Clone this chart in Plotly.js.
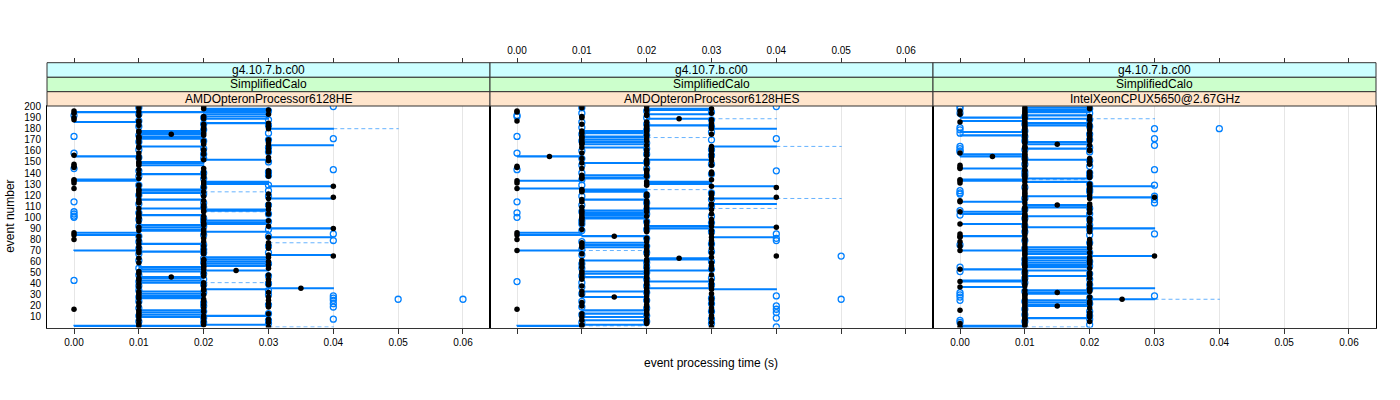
<!DOCTYPE html>
<html><head><meta charset="utf-8">
<script src="https://cdn.plot.ly/plotly-3.0.1.min.js"></script>
<style>body{margin:0;background:#fff}#chart{width:1400px;height:400px}</style>
</head><body><div id="chart"></div><script>
const version = "g4.10.7.b.c00";
const app = "SimplifiedCalo";
const cpus = ["AMDOpteronProcessor6128HE","AMDOpteronProcessor6128HES","IntelXeonCPUX5650@2.67GHz"];
const xTickVals = [0,0.01,0.02,0.03,0.04,0.05,0.06];
const xTickText = ["0.00","0.01","0.02","0.03","0.04","0.05","0.06"];
const yTickVals = [10,20,30,40,50,60,70,80,90,100,110,120,130,140,150,160,170,180,190,200];

// ---- Panel 1: AMDOpteronProcessor6128HE (values in hundredths of a second) ----
// median per event 1..200
const p1Med = [3,1,2,1,3,2,1,3,2,1, 2,1,3,1,2,1,0,2,3,1, 2,3,1,2,3,2,1,3,1,2, 1,3,1,2,2,3.5,1,2,3,1,
2,3,1,3,1,1.5,2,3,1,2, 1,2.5,2,3,2,2,3,2,1,3, 2,2,1,3,4,3,2,1,2,1, 2,3,1,2,3,1,3,2,1,0, 2,3,1,0,2,0,2,1,2,4,
1,3,2,2,2,1,3,2,1,1, 2,1,3,1,2,2,3,1,2,3, 2,3,1,1,2,1,3,4,2,1, 3,1,2,1,1,0,2,4,1,2, 0,2,0,0,1,2,3,2,1,3,
2,3,1,2,0,0,1,0,1,1, 3,2,1,3,1,0,2,1,3,2, 2,3,1,1,3,2,3,1,2,3, 1,1,1,2,1.5,2,1,1,2,3, 2,3,1,2,3,1,1,0,2,0,
2,1,3,0,1,0,3,2,1,2];
// boxes (lower to upper quartile): [event, low, high]
const p1Box = [[2,0,2],[3,2,3],[10,1,2],[11,2,3],[12,1,2],[14,1,2],[16,1,2],[27,1,2],[29,1,2],[31,1,2],[33,1,2],[35,2,3],[36,3,4],[41,1,2],[43,1,2],[45,1,2],[46,1,2],[51,1,2],[52,2,3],[53,1,2],[55,1,2],[56,2,3],[58,2,3],[60,2,3],[62,2,3],[64,2,3],[66,3,4],[69,1,2],[70,0,1],[76,1,2],[82,3,4],[84,0,1],[86,0,1],[87,2,3],[88,1,2],[89,1,2],[90,3,4],[91,1,2],[93,1,2],[94,2,3],[95,2,3],[97,2,3],[102,1,2],[106,2,3],[107,2,3],[108,1,2],[116,1,2],[117,3,4],[122,1,2],[124,1,2],[125,1,2],[128,3,4],[130,2,3],[132,2,3],[133,0,1],[134,0,1],[139,1,2],[147,1,2],[149,1,2],[150,1,2],[152,2,3],[155,0,1],[164,1,2],[165,3,4],[171,1,2],[172,1,2],[173,1,2],[175,1,2],[176,1,2],[177,1,2],[178,1,2],[180,3,4],[185,2,3],[186,0,1],[189,2,3],[191,2,3],[193,2,3],[195,0,3],[197,2,3],[198,2,3]];
// whiskers drawn dashed: [event, from, to]
const p1Whisk = [[1,3,4],[41,2,3],[77,3,4],[105,2,3],[123,2,3],[180,4,5]];
// outliers: [event, value]
const p1Out = [[192,0],[173,0],[158,0],[144,0],[114,0],[105,0],[103,0],[101,0],[100,0],[43,0],
[200,4],[171,4],[143,4],[85,4],[79,4],[29,4],[27,4],[25,4],[22,4],[19,4],[8,4],[26,5],[26,6],
[199,1],[193,1],[187,1],[182,1],[174,1],[168,1],[161,1],[154,1],[142,1],[137,1],[129,1],[120,1],[112,1],[104,1],[98,1],[92,1],[83,1],[78,1],[72,1],[67,1],[61,1],[54,1],[48,1],[42,1],[38,1],[34,1],[28,1],[24,1],[18,1],[11,1],[6,1],
[190,2],[184,2],[179,2],[169,2],[162,2],[157,2],[153,2],[140,2],[135,2],[127,2],[121,2],[113,2],[109,2],[99,2],[96,2],[92,2],[84,2],[75,2],[71,2],[68,2],[63,2],[59,2],[49,2],[44,2],[39,2],[32,2],[23,2],[20,2],[15,2],[9,2],[5,2],
[196,3],[188,3],[183,3],[176,3],[170,3],[163,3],[159,3],[150,3],[141,3],[138,3],[129,3],[124,3],[119,3],[111,3],[103,3],[96,3],[89,3],[83,3],[74,3],[68,3],[58,3],[47,3],[40,3],[34,3],[30,3],[21,3],[13,3],[7,3],[4,3]];

// ---- Panel 2: AMDOpteronProcessor6128HES ----
const p2Med = [3,1,1,2,3,2,1,2,3,1, 3,2,1,2,3,2,0,3,2,1, 2,3,1,2,3,2,3,1.5,2,1, 3,2,1,2,3,2,3,1,2,3,
2,2,3,1,2,1,2,3,1,2, 1,2,3,2,1,3,2,1,3,2, 1,2,2.5,3,4,2,1,3,2,0, 2,3,1,2,1,3,1,2,3,0, 2,3,1.5,0,3,0,2,3,1,2,
4,3,2,1,3,2,1,3,1,1, 2,1,3,1,2,1,3,2,1,2, 3,3,2,1,2,1,3,4,2,3, 2,3,1,1,1,0,4,3,2,2, 0,2,0,3,1,1,2,1,3,2,
3,2,2,1,0,0,3,2,1,2, 3,2,1,3,0.5,2,3,1,2,3, 2,3,1,3,2,1,1,1,2,1, 2,1,1,2,3,1,2,1,2,3, 2,3,2,1,3,2,0,3,2.5,1,
1,2,2,3,0,0,2,3,1,2];
const p2Box = [[2,0,1],[3,1,2],[7,1,2],[10,1,2],[13,1,2],[16,1,2],[28,1,2],[33,1,2],[35,3,4],[36,2,3],[42,2,3],[46,1,2],[49,1,2],[51,1,2],[52,2,3],[61,1,2],[62,2,3],[63,2,3],[70,0,1],[73,1,2],[75,1,2],[77,1,2],[82,3,4],[83,1,2],[84,0,1],[86,0,1],[90,2,3],[91,3,4],[92,2,3],[99,1,2],[100,1,2],[102,1,2],[104,1,2],[106,1,2],[108,2,3],[112,3,4],[116,1,2],[117,3,4],[123,1,2],[124,1,2],[125,1,2],[126,0,1],[128,3,4],[130,2,3],[132,2,3],[133,0,1],[135,1,2],[136,1,2],[138,1,2],[149,1,2],[152,2,3],[155,0,1],[163,1,2],[164,3,4],[166,1,2],[168,1,2],[170,1,2],[172,1,2],[173,1,2],[176,1,2],[178,1,2],[180,3,4],[183,2,3],[189,2,3],[193,2,3],[197,2,3],[198,2,3]];
const p2Whisk = [[2,1,2],[70,1,2],[108,3,4],[117,4,5],[125,2,3],[164,4,5],[172,2,3],[189,3,4]];
const p2Out = [[192,0],[191,0],[173,0],[158,0],[143,0],[114,0],[104,0],[100,0],[42,0],
[200,4],[171,4],[142,4],[85,4],[81,4],[79,4],[29,4],[20,4],[17,4],[14,4],[9,4],[1,4],[65,5],[26,5],
[199,1],[194,1],[186,1],[181,1],[175,1],[169,1],[160,1],[153,1],[147,1],[140,1],[134,1],[129,1],[119,1],[111,1],[105,1],[97,1],[94,1],[88,1],[78,1],[71,1],[66,1],[58,1],[54,1],[47,1],[41,1],[37,1],[31,1],[24,1],[19,1],[12,1],[5,1],
[196,2],[190,2],[184,2],[179,2],[174,2],[167,2],[162,2],[157,2],[150,2],[144,2],[137,2],[120,2],[113,2],[107,2],[103,2],[96,2],[89,2],[81,2],[74,2],[68,2],[59,2],[55,2],[50,2],[44,2],[38,2],[32,2],[25,2],[18,2],[11,2],[6,2],
[195,3],[188,3],[182,3],[177,3],[170,3],[161,3],[156,3],[148,3],[139,3],[122,3],[116,3],[110,3],[101,3],[95,3],[87,3],[76,3],[69,3],[60,3],[53,3],[45,3],[39,3],[27,3],[22,3],[15,3],[8,3],[4,3]];

// ---- Panel 3: IntelXeonCPUX5650@2.67GHz ----
const p3Med = [0,1,1,0,1,2,1,1,1,2, 1,2,1,2,1,0,1,2,1,1.5, 1,2,1,2,1,2.5,1,2,1,1, 1,1.5,2,1,2,2,0,1,2,1,
2,0,1,1,2,1,1,2,1,2, 1,1,0,2,1,1,1,2,1,2, 1,2,1,2,3,1,1,2,1,0, 1,2,1,0,2,1,2,0,1,2, 1,0,0,1,0,1,2,1,1,2,
1,2,1,0,1,2,1,1,2,1, 1,1,1,2,0,1,2,1,1,2, 1.5,2,1,0,0,1,2,3,1,2, 1,1,2,1,2,1,2,2,1,2, 0,1,0,0,1,2,1,2,1,2,
2,1,1,0,0,1,0,2,1,2, 1,1,2,1,0.5,1,1,0,1,2, 2,1,1,1,2,1.5,1,1,2,1, 2,1,2,1,1,2,1,1,2,1, 1,2,1,2,1,0,1,2,1,1,
2,1,0,1,1,0,1,2,1,2];
const p3Box = [[1,0,1],[2,0,1],[9,1,2],[20,1,2],[21,1,2],[23,1,2],[25,1,2],[26,2,3],[31,1,2],[32,1,2],[34,1,2],[36,2,3],[37,0,1],[42,0,1],[43,0,1],[47,1,2],[52,1,2],[53,0,1],[55,1,2],[57,1,2],[59,1,2],[61,1,2],[63,1,2],[64,1,2],[65,2,3],[67,1,2],[69,1,2],[70,0,1],[71,1,2],[73,1,2],[83,0,1],[90,2,3],[91,1,2],[94,0,1],[101,1,2],[103,0,1],[105,0,1],[109,1,2],[111,1,2],[114,0,1],[118,2,3],[119,1,2],[128,2,3],[132,1,2],[133,0,1],[134,0,1],[135,1,2],[144,0,1],[152,1,2],[155,0,1],[157,0,1],[162,1,2],[166,1,2],[168,1,2],[174,0,1],[177,0,1],[183,1,2],[185,1,2],[187,0,1],[189,1,2],[190,0,1],[192,1,2],[195,1,2],[197,1,2],[199,1,2]];
const p3Whisk = [[1,1,2],[26,3,4],[134,1,2],[189,2,3]];
const p3Out = [[200,0],[198,0],[194,0],[181,0],[179,0],[176,0],[164,0],[162,0],[160,0],[159,0],[124,0],[122,0],[121,0],[106,0],[102,0],[75,0],[55,0],[51,0],[32,0],[30,0],[28,0],[25,0],[7,0],[5,0],
[180,3],[171,3],[165,3],[143,3],[129,3],[119,3],[116,3],[113,3],[85,3],[29,3],[180,4],
[191,1],[184,1],[178,1],[173,1],[169,1],[161,1],[153,1],[148,1],[141,1],[138,1],[127,1],[117,1],[107,1],[99,1],[92,1],[87,1],[79,1],[72,1],[62,1],[58,1],[50,1],[45,1],[41,1],[33,1],[24,1],[17,1],[12,1],[6,1],
[198,2],[194,2],[188,2],[182,2],[175,2],[170,2],[163,2],[159,2],[151,2],[146,2],[140,2],[137,2],[130,2],[125,2],[123,2],[108,2],[103,2],[98,2],[93,2],[89,2],[84,2],[77,2],[68,2],[60,2],[56,2],[49,2],[44,2],[39,2],[35,2],[27,2],[22,2],[15,2],[11,2],[8,2],[3,2]];

const meds = [p1Med,p2Med,p3Med], boxes=[p1Box,p2Box,p3Box], whisks=[p1Whisk,p2Whisk,p3Whisk], outs=[p1Out,p2Out,p3Out];

const BLUE = "#0080ff";
const H = 0.4;
const xRange = [-0.004167, 0.064167];
const domains = [[47/1400, 490/1400],[490/1400, 933/1400],[933/1400, 1376/1400]];
const yDom = [(400-327.5)/400, (400-106)/400];
const stripTop = (400-62.7)/400, s1 = (400-77.3)/400, s2 = (400-91.7)/400, stripBot = yDom[1];

const traces = [];
for (let p=0;p<3;p++){
  const xa = p===0?'x':'x'+(p+1), ya = p===0?'y':'y'+(p+1);
  const wx=[],wy=[];
  whisks[p].forEach(([e,a,b])=>{ wx.push(a/100,b/100,null,b/100,b/100,null); wy.push(e,e,null,e-H,e+H,null); });
  traces.push({x:wx,y:wy,xaxis:xa,yaxis:ya,mode:'lines',line:{color:BLUE,width:1,dash:'4px,3px'},opacity:0.6,hoverinfo:'skip',showlegend:false});
  const bx=[],by=[];
  boxes[p].forEach(([e,lo,hi])=>{ bx.push(lo/100,hi/100,hi/100,lo/100,lo/100,null); by.push(e-H,e-H,e+H,e+H,e-H,null); });
  traces.push({x:bx,y:by,xaxis:xa,yaxis:ya,mode:'lines',line:{color:BLUE,width:1.2},hoverinfo:'skip',showlegend:false});
  traces.push({x:outs[p].map(d=>d[1]/100),y:outs[p].map(d=>d[0]),xaxis:xa,yaxis:ya,mode:'markers',marker:{symbol:'circle-open',color:BLUE,size:6,line:{width:1.3,color:BLUE}},hoverinfo:'skip',showlegend:false});
  traces.push({x:meds[p].map(v=>v/100),y:meds[p].map((v,i)=>i+1),xaxis:xa,yaxis:ya,mode:'markers',marker:{symbol:'circle',color:'#000',size:5.5},hoverinfo:'skip',showlegend:false});
  // carrier trace so the top (strip-side) axis of this panel is drawn
  traces.push({x:[null],y:[null],xaxis:'x'+(p+4),yaxis:ya,mode:'markers',hoverinfo:'skip',showlegend:false});
}

const font = {family:'"Liberation Sans", Arial, sans-serif', size:10, color:'#000'};
const layout = {width:1400,height:400,margin:{l:0,r:0,t:0,b:0},paper_bgcolor:'#fff',plot_bgcolor:'#fff',font:font,showlegend:false,shapes:[],annotations:[]};
for (let p=0;p<3;p++){
  const n = p===0?'':String(p+1);
  layout['xaxis'+n] = {domain:domains[p],range:xRange,anchor:'y'+n,tickvals:xTickVals,ticktext:xTickText,ticks:'outside',ticklen:5,tickcolor:'#333',
    showticklabels:p!==1,showgrid:true,gridcolor:'#e6e6e6',gridwidth:1,zeroline:false,showline:true,linecolor:'#333',linewidth:1,mirror:true,tickfont:font};
  layout['yaxis'+n] = {domain:yDom,range:[0.5,200.5],anchor:'x'+n,tickvals:yTickVals,ticks:'',showticklabels:p===0,showgrid:false,zeroline:false,
    showline:true,linecolor:'#000',linewidth:1,mirror:true,tickfont:font,ticklabelstandoff:3};
  layout['xaxis'+(p+4)] = {overlaying:p===0?'x':'x'+(p+1),domain:domains[p],anchor:'free',position:stripTop,side:'top',range:xRange,tickvals:xTickVals,ticktext:xTickText,
    ticks:'outside',ticklen:5,tickcolor:'#333',showticklabels:p===1,showgrid:false,zeroline:false,showline:false,tickfont:font};
  const strips = [[s1,stripTop,'#ccffff',version],[s2,s1,'#ccffcc',app],[stripBot,s2,'#ffe5cc',cpus[p]]];
  strips.forEach(([y0,y1,c,t])=>{
    layout.shapes.push({type:'rect',xref:'paper',yref:'paper',x0:domains[p][0],x1:domains[p][1],y0:y0,y1:y1,fillcolor:c,line:{color:'#333',width:1},layer:'above'});
    layout.annotations.push({xref:'paper',yref:'paper',x:(domains[p][0]+domains[p][1])/2,y:(y0+y1)/2,text:t,showarrow:false,font:{family:font.family,size:12,color:'#000'},xanchor:'center',yanchor:'middle'});
  });
}
layout.annotations.push({xref:'paper',yref:'paper',x:10/1400,y:(400-216.8)/400,text:'event number',textangle:-90,showarrow:false,font:{family:font.family,size:12,color:'#000'},xanchor:'center',yanchor:'middle'});
layout.annotations.push({xref:'paper',yref:'paper',x:711/1400,y:(400-363)/400,text:'event processing time (s)',showarrow:false,font:{family:font.family,size:12,color:'#000'},xanchor:'center',yanchor:'middle'});

Plotly.newPlot('chart',traces,layout,{staticPlot:true});
</script></body></html>
